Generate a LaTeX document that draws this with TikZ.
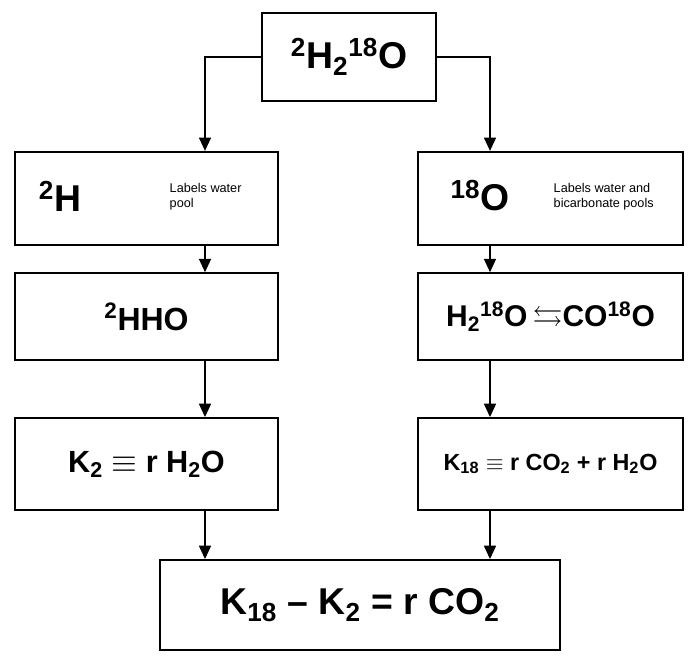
\documentclass[tikz,border=0pt]{standalone}
\usepackage{amssymb}
\usepackage{fontspec}
\setmainfont{Liberation Sans}
\usetikzlibrary{arrows.meta}
\newcommand{\up}[1]{\textsuperscript{#1}}
\newcommand{\dn}[1]{\textsubscript{#1}}
\begin{document}
\begin{tikzpicture}[x=0.75pt,y=-0.75pt]
  \tikzstyle{box} = [rectangle, draw, line width=1.4pt, inner sep=0pt, font=\bfseries]
  \tikzstyle{note} = [font=\fontsize{9.5}{11}\selectfont, align=left, anchor=west]
  \tikzstyle{arrow} = [line width=1.1pt, -{Triangle[length=10pt,width=9pt]}]
  \useasboundingbox (0,0) rectangle (696,663);

  \node (top) [box, minimum width=130.5pt, minimum height=66pt, font=\bfseries\fontsize{28}{32}\selectfont] at (349,57) {\up{2}H\dn{2}\up{18}O};
  \node (h2) [box, minimum width=197pt, minimum height=70pt] at (146.5,198.5) {};
  \node [font=\bfseries\fontsize{28}{32}\selectfont] at (60,196) {\up{2}H};
  \node [note] at (165,197) {Labels water\\pool};
  \node (o18) [box, minimum width=199pt, minimum height=70pt] at (550.5,198.5) {};
  \node [font=\bfseries\fontsize{28}{32}\selectfont] at (480,196) {\up{18}O};
  \node [note] at (549,197) {Labels water and\\bicarbonate pools};

  \node (hho) [box, minimum width=197pt, minimum height=65pt, font=\bfseries\fontsize{24}{28}\selectfont] at (146.5,316.5) {\up{2}HHO};
  \node (eq) [box, minimum width=199pt, minimum height=65pt, font=\bfseries\fontsize{22.5}{26}\selectfont] at (550.5,316.5) {H\dn{2}\up{18}O\,$\leftrightarrows$CO\up{18}O};

  \node (k2) [box, minimum width=197pt, minimum height=69pt, font=\bfseries\fontsize{23}{27}\selectfont] at (146.5,464) {K\dn{2} $\equiv$ r H\dn{2}O};
  \node (k18) [box, minimum width=199pt, minimum height=69pt, font=\bfseries\fontsize{17.5}{20}\selectfont] at (550.5,464) {K\dn{18} $\equiv$ r CO\dn{2} + r H\dn{2}O};

  \node (res) [box, minimum width=300pt, minimum height=67.5pt, font=\bfseries\fontsize{28}{32}\selectfont] at (360,605) {K\dn{18} -- K\dn{2} = r CO\dn{2}};

  \draw [arrow] (top.west) -| (h2.north -| 205,0);
  \draw [arrow] (top.east) -| (o18.north -| 490,0);
  \draw [arrow] (h2.south -| 205,0) -- (hho.north -| 205,0);
  \draw [arrow] (o18.south -| 490,0) -- (eq.north -| 490,0);
  \draw [arrow] (hho.south -| 205,0) -- (k2.north -| 205,0);
  \draw [arrow] (eq.south -| 490,0) -- (k18.north -| 490,0);
  \draw [arrow] (k2.south -| 205,0) -- (res.north -| 205,0);
  \draw [arrow] (k18.south -| 490,0) -- (res.north -| 490,0);
\end{tikzpicture}
\end{document}
